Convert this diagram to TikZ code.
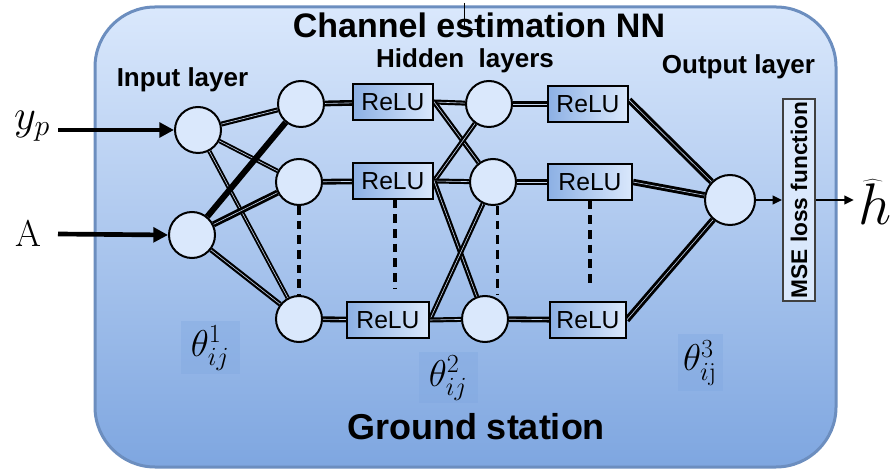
\RequirePackage{fix-cm}
\documentclass[tikz,border=0pt]{standalone}
\usepackage{fontspec}
\setsansfont{Liberation Sans}
\usetikzlibrary{arrows.meta,backgrounds}

\definecolor{frameedge}{HTML}{6C8EBF}
\definecolor{frametop}{HTML}{DAE8FC}
\definecolor{framebottom}{HTML}{7EA6E0}
\definecolor{nodefill}{HTML}{DAE8FC}
\definecolor{reluleft}{HTML}{8CB0E4}
\definecolor{linkcore}{HTML}{C5D5EE}
\definecolor{lossedge}{HTML}{404040}

\pgfdeclarelayer{edges}
\pgfsetlayers{background,edges,main}

\tikzset{
  neuron/.style={circle, draw=black, line width=1.5pt, fill=nodefill,
    inner sep=0pt, minimum size=34.5pt},
  relubox/.style={draw=black, line width=1.6pt, left color=reluleft,
    right color=nodefill, inner sep=0pt, minimum width=60pt,
    minimum height=26.5pt, font=\sffamily\fontsize{18.5}{18.5}\selectfont},
  link/.style={draw=black, double=linkcore, double distance=0.45pt,
    line width=1.65pt},
  thicklink/.style={link, line width=1.95pt},
  layerlabel/.style={anchor=base, font=\sffamily\bfseries\fontsize{19.5}{20}\selectfont},
  thetabox/.style={fill=framebottom, fill opacity=0.35, text opacity=1,
    inner sep=0pt, font=\fontsize{28}{28}\selectfont},
  inarrow/.style={line width=3.5pt, -{Triangle[length=11pt,width=11pt]}},
  outarrow/.style={line width=1.5pt, -{Triangle[length=7pt,width=6.5pt]}},
  dots/.style={line width=2.4pt, dash pattern=on 6.5pt off 4.5pt},
}

\begin{document}
\begin{tikzpicture}[x=0.75pt, y=-0.75pt]
\useasboundingbox (0,0) rectangle (895,473);

% station frame
\begin{pgfonlayer}{background}
  \draw[draw=frameedge, line width=2.25pt, top color=frametop,
    bottom color=framebottom, rounded corners=45pt] (95,7) rectangle (836,467);
  \draw[line width=0.6pt] (464,3) -- (464,30) (464,29) -- (477,29);
\end{pgfonlayer}

% titles
\node[anchor=base, font=\sffamily\bfseries\fontsize{25.5}{26}\selectfont]
  (title) at (479,38) {Channel estimation NN};
\node[layerlabel] (lin) at (182.5,87) {Input layer};
\node[layerlabel] (lhid) at (465,68) {Hidden\ \ layers};
\node[layerlabel] (lout) at (738.5,74) {Output layer};
\node[anchor=base, font=\sffamily\bfseries\fontsize{27}{28}\selectfont]
  (ground) at (476,440) {Ground station};

% weight labels
\node[thetabox, minimum width=44.25pt, minimum height=39.75pt] (t1) at (210,348) {$\theta^{1}_{ij}$};
\node[thetabox, minimum width=44.25pt, minimum height=38.25pt] (t2) at (448,378) {$\theta^{2}_{ij}$};
\node[thetabox, minimum width=33.75pt, minimum height=42.75pt] (t3) at (700,363) {$\theta^{3}_{i\mathrm{j}}$};

% input layer
\node[neuron] (i1) at (198,130) {};
\node[neuron] (i2) at (192,235) {};
% first hidden layer
\node[neuron] (h1a) at (301,104) {};
\node[neuron] (h1b) at (299,182) {};
\node[neuron] (h1c) at (299,319) {};
\node[relubox] (r1a) at (393,102) {ReLU};
\node[relubox] (r1b) at (393,181) {ReLU};
\node[relubox, minimum width=61pt] (r1c) at (388,320) {ReLU};
% second hidden layer
\node[neuron] (h2a) at (489,104) {};
\node[neuron] (h2b) at (493,182) {};
\node[neuron] (h2c) at (485,319) {};
\node[relubox] (r2a) at (588,104) {ReLU};
\node[relubox, minimum width=63pt] (r2b) at (590,182) {ReLU};
\node[relubox, minimum width=56.5pt] (r2c) at (588,320) {ReLU};
% output layer
\node[neuron, minimum size=37.5pt] (out) at (730,200) {};
\node[draw=lossedge, line width=1.5pt, fill=nodefill, rotate=90,
  minimum width=152pt, minimum height=24pt, inner sep=0pt,
  font=\sffamily\bfseries\fontsize{17}{17}\selectfont] (mse) at (799,200) {MSE loss function};

% inputs and output symbols
\node[font=\fontsize{32}{32}\selectfont] (yp) at (32,126) {$y_p$};
\node[font=\fontsize{28}{28}\selectfont] (ain) at (28,233) {A};
\node[anchor=base, font=\fontsize{44}{44}\selectfont] (hhat) at (875,225) {$\widehat{h}$};

\coordinate (ypend) at (58,130);
\coordinate (aend) at (58,234);

\draw[inarrow] (ypend) -- (i1.west);
\draw[inarrow] (aend) -- (i2.west);
\draw[outarrow] (out.east) -- (mse.north);
\draw[outarrow] (mse.south) -- (mse.south -| hhat.west);

\begin{pgfonlayer}{edges}
  % input -> first hidden
  \draw[link] (i1) -- (h1a);
  \draw[link, line width=1.4pt] (i1) -- (h1b);
  \draw[link, line width=1.4pt] (i1) -- (h1c);
  \draw[line width=4.5pt] (i2) -- (h1a);
  \draw[thicklink, line width=2.1pt] (i2) -- (h1b);
  \draw[link] (i2) -- (h1c);
  % neurons -> activations
  \draw[thicklink] (h1a) -- (r1a);
  \draw[thicklink] (h1b) -- (r1b);
  \draw[thicklink] (h1c) -- (r1c);
  % first activations -> second hidden
  \draw[link] (r1a.east) -- (h2a);
  \draw[link] (r1a.east) -- (h2b);
  \draw[link] (r1b.east) -- (h2a);
  \draw[link] (r1b.east) -- (h2b);
  \draw[link] (r1b.east) -- (h2c);
  \draw[link] (r1c.east) -- (h2b);
  \draw[link] (r1c.east) -- (h2c);
  % second hidden -> activations
  \draw[thicklink] (h2a) -- (r2a);
  \draw[thicklink] (h2b) -- (r2b);
  \draw[thicklink] (h2c) -- (r2c);
  % activations -> output
  \draw[thicklink, line width=2.2pt] ([yshift=3pt]r2a.east) -- (out);
  \draw[thicklink, line width=2.2pt] (r2b.east) -- (out);
  \draw[thicklink, line width=2.2pt] (r2c.east) -- (out);
  % omitted units
  \draw[dots] (h1b.south) -- (h1c.north);
  \draw[dots, shorten >=10pt] ([xshift=1.5pt]r1b.south) -- ([xshift=1.5pt]r1b.south |- r1c.north);
  \draw[dots] ([xshift=3.5pt]h2b.south) -- ([xshift=3.5pt]h2b.south |- h2c.north);
  \draw[dots, shorten >=10pt] (r2b.south) -- (r2b.south |- r2c.north);
\end{pgfonlayer}
\end{tikzpicture}
\end{document}
